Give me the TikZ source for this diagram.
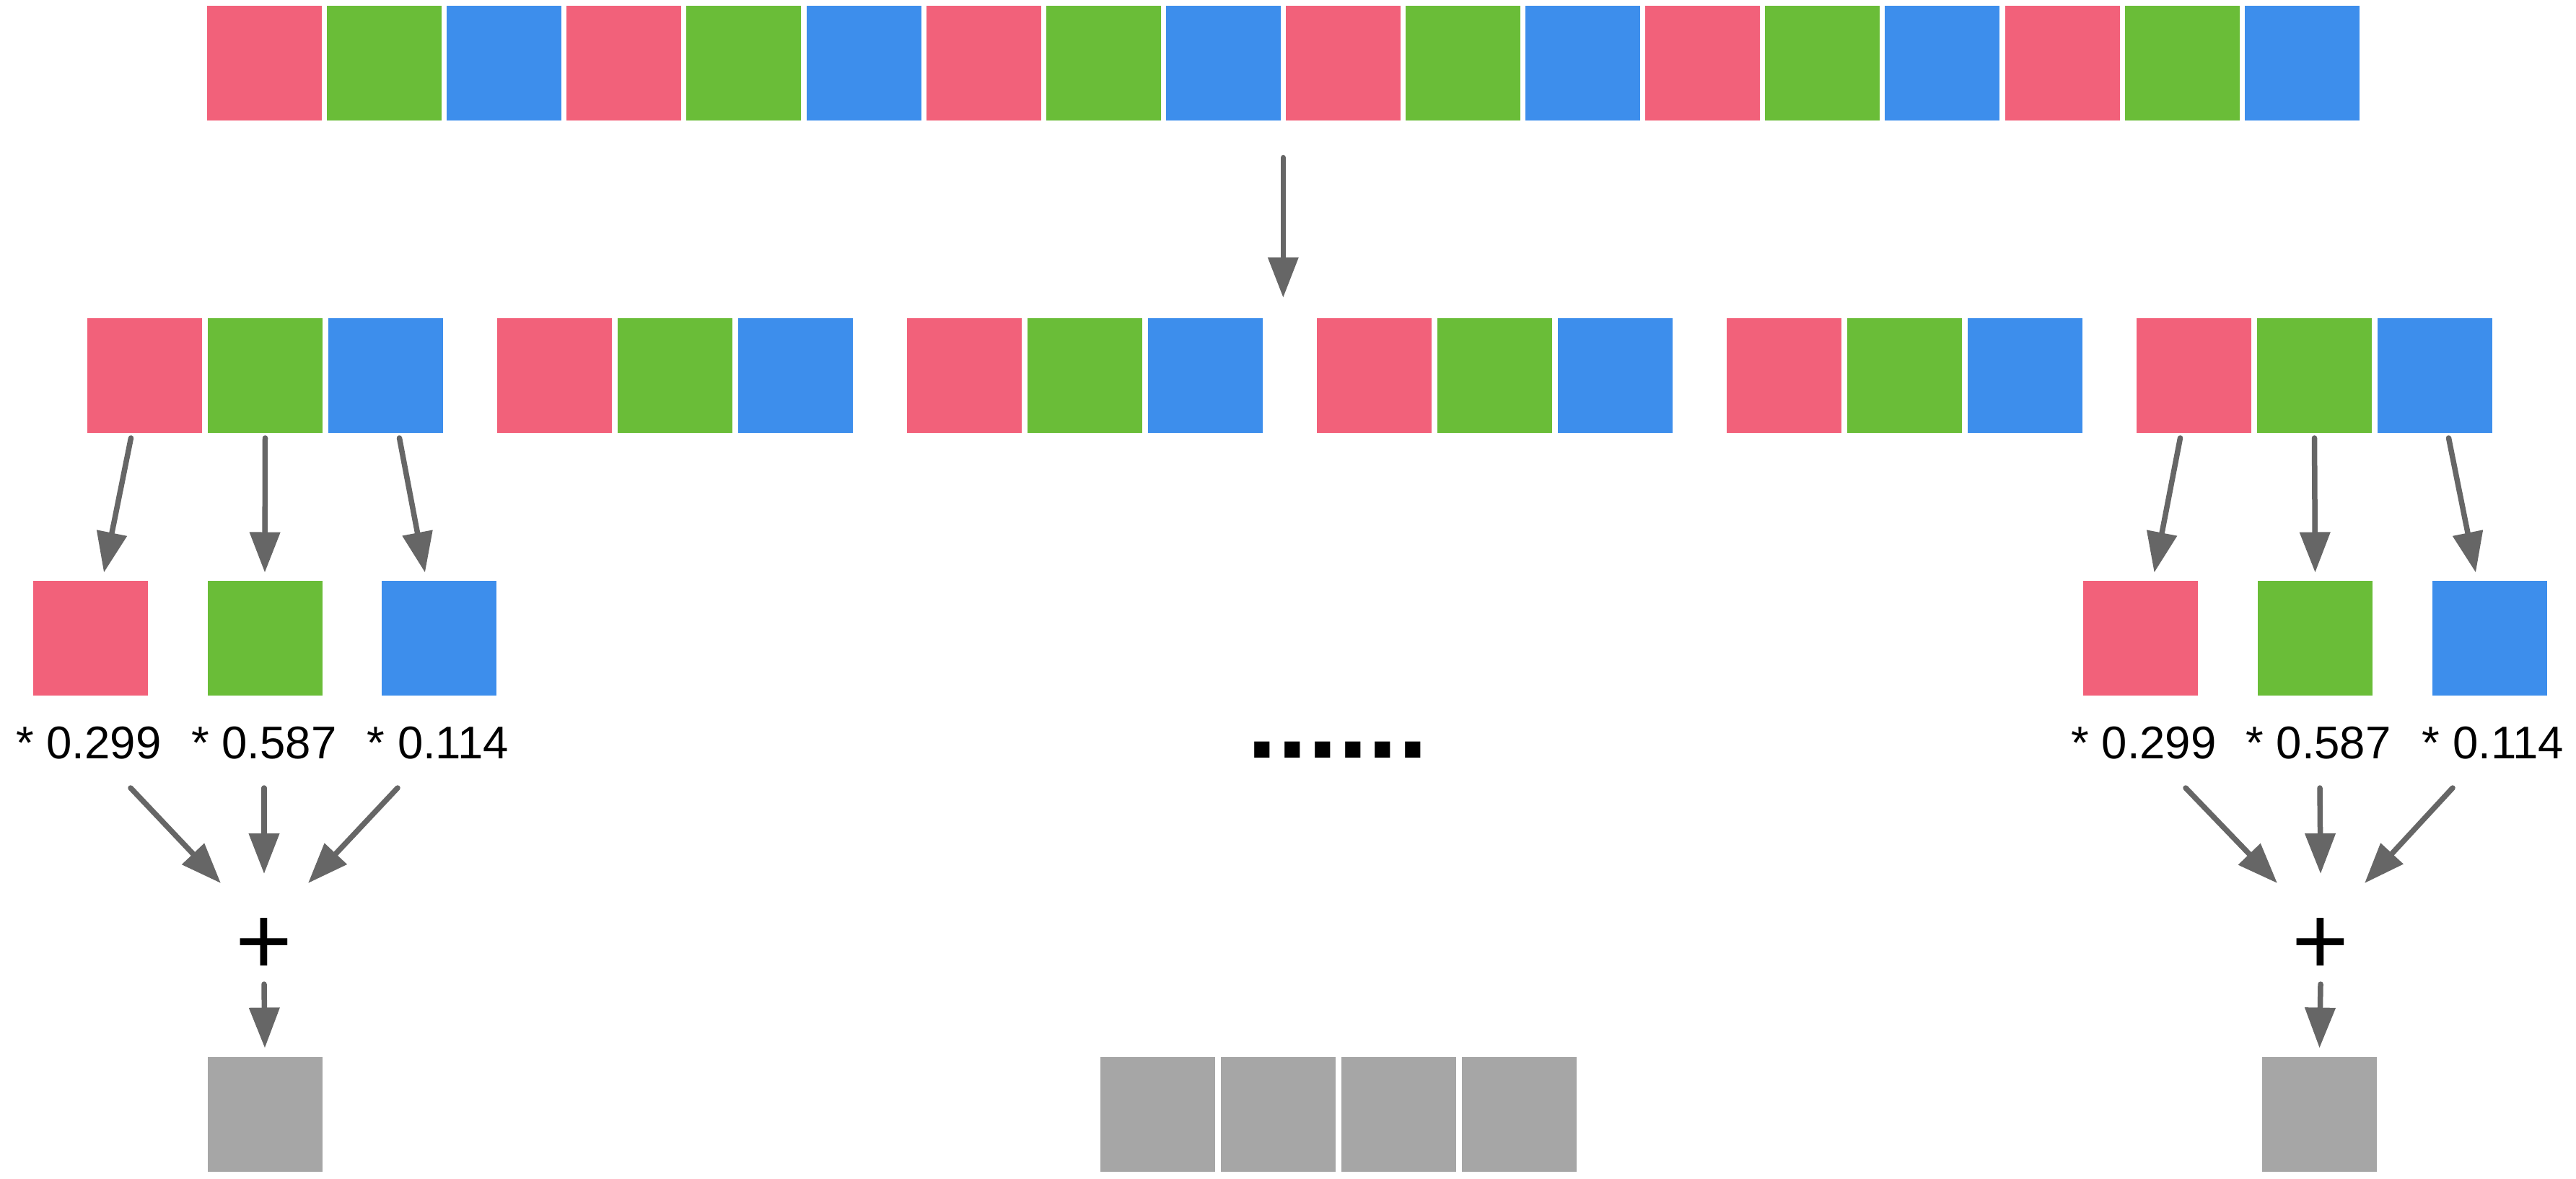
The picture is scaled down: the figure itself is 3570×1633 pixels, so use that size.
\documentclass[tikz,border=0pt]{standalone}
\usepackage{fontspec}
\setmainfont{Liberation Sans}
\usepackage{color}
\usepackage{tikz}
\usetikzlibrary{arrows.meta}
\definecolor{pixred}{HTML}{F2617A}
\definecolor{pixgreen}{HTML}{6ABD38}
\definecolor{pixblue}{HTML}{3D8EEC}
\definecolor{pixgray}{HTML}{A6A6A6}
\definecolor{arrgray}{HTML}{666666}

\begin{document}
\begin{tikzpicture}[x=1pt,y=-1pt,
                    pix/.style={minimum size=159pt,inner sep=0pt,outer sep=0pt},
                    redbox/.style={pix,fill=pixred},
                    greenbox/.style={pix,fill=pixgreen},
                    bluebox/.style={pix,fill=pixblue},
                    graybox/.style={pix,fill=pixgray},
                    weight/.style={inner sep=0pt,anchor=base,font=\fontsize{63.5}{70}\selectfont},
                    arr/.style={draw=arrgray,line width=7.5pt,line cap=round,
                                -{Triangle[length=56pt,width=41pt]}}]
 \useasboundingbox (0,0) rectangle (3570,1633);
 % interleaved pixels
 \foreach \k in {0,...,5} {
   \node[redbox]   (top-\k-r) at (366.5+498.3*\k,87) {};
   \node[greenbox] (top-\k-g) at (532.6+498.3*\k,87) {};
   \node[bluebox]  (top-\k-b) at (698.7+498.3*\k,87) {};
 }
 % one group per pixel
 \foreach \k in {0,...,5} {
   \node[redbox]   (grp-\k-r) at (200.5+568*\k,520.5) {};
   \node[greenbox] (grp-\k-g) at (367.5+568*\k,520.5) {};
   \node[bluebox]  (grp-\k-b) at (534.5+568*\k,520.5) {};
 }
 \coordinate (split) at ([shift={(83,52)}]top-2-b.south);
 \draw[arr] (split) -- ++(0,194);

 \node[redbox]   (sepL-r) at (125,884) {};
 \node[greenbox] (sepL-g) at (367,884) {};
 \node[bluebox]  (sepL-b) at (608,884) {};
 \node[redbox]   (sepR-r) at (2966.5,884) {};
 \node[greenbox] (sepR-g) at (3208.5,884) {};
 \node[bluebox]  (sepR-b) at (3450,884) {};

 \node[weight] (wL-r) at (123,1051) {* 0.299};
 \node[weight] (wL-g) at (366,1051) {* 0.587};
 \node[weight] (wL-b) at (607,1051) {* 0.114};
 \node[weight] (wR-r) at (2971,1051) {* 0.299};
 \node[weight] (wR-g) at (3213,1051) {* 0.587};
 \node[weight] (wR-b) at (3455,1051) {* 0.114};

 \node[inner sep=0pt,anchor=base,font=\fontsize{135}{140}\selectfont] (plusL) at (366,1350) {+};
 \node[inner sep=0pt,anchor=base,font=\fontsize{135}{140}\selectfont] (plusR) at (3216,1350) {+};

 \node[inner sep=0pt,anchor=base,font=\fontsize{150}{160}\selectfont\bfseries] (more) at (1854,1050) {......};

 \node[graybox] (outL) at (367,1544) {};
 \node[graybox] (outR) at (3214.5,1544) {};
 \foreach \k in {0,...,3}
   \node[graybox] (out-\k) at (1604+167*\k,1544) {};

 \draw[arr] ([shift={(-19,7)}]grp-0-r.south) -- ([shift={(19,-11)}]sepL-r.north);
 \draw[arr] ([shift={(0,7)}]grp-0-g.south) -- ([shift={(0,-11)}]sepL-g.north);
 \draw[arr] ([shift={(19,7)}]grp-0-b.south) -- ([shift={(-19,-11)}]sepL-b.north);
 \draw[arr] ([shift={(-19,7)}]grp-5-r.south) -- ([shift={(19,-11)}]sepR-r.north);
 \draw[arr] ([shift={(0,7)}]grp-5-g.south) -- ([shift={(0,-11)}]sepR-g.north);
 \draw[arr] ([shift={(19,7)}]grp-5-b.south) -- ([shift={(-19,-11)}]sepR-b.north);

 \draw[arr] ([shift={(58,41)}]wL-r.base) -- ([shift={(-60,-126)}]plusL.base);
 \draw[arr] ([shift={(0,41)}]wL-g.base) -- ([shift={(0,-139)}]plusL.base);
 \draw[arr] ([shift={(-56,41)}]wL-b.base) -- ([shift={(61,-126)}]plusL.base);
 \draw[arr] ([shift={(58,41)}]wR-r.base) -- ([shift={(-60,-126)}]plusR.base);
 \draw[arr] ([shift={(2,41)}]wR-g.base) -- ([shift={(0,-139)}]plusR.base);
 \draw[arr] ([shift={(-56,41)}]wR-b.base) -- ([shift={(61,-126)}]plusR.base);

 \draw[arr] ([shift={(0,14)}]plusL.base) -- ([shift={(0,-12)}]outL.north);
 \draw[arr] ([shift={(0,14)}]plusR.base) -- ([shift={(0,-12)}]outR.north);
\end{tikzpicture}
\end{document}
